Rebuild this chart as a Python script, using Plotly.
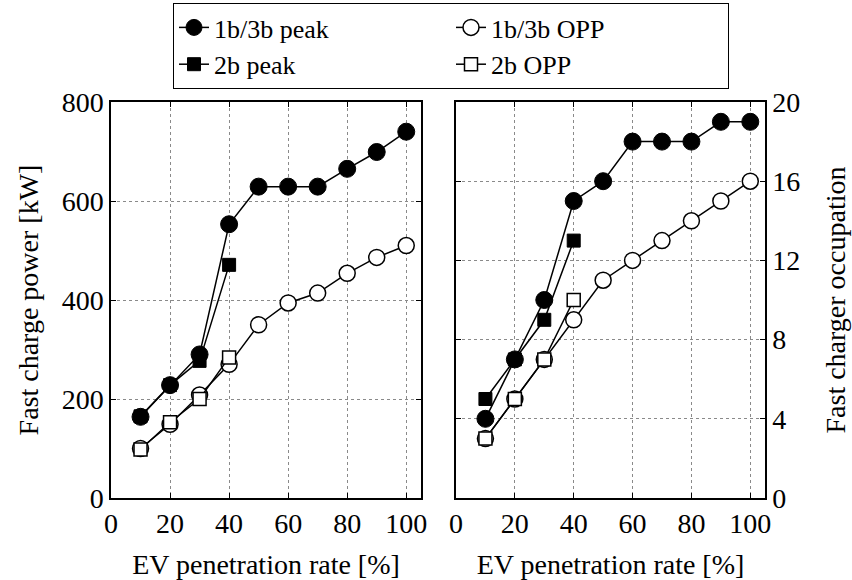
import plotly.graph_objects as go

# EV penetration rate [%]
x_full = [10, 20, 30, 40, 50, 60, 70, 80, 90, 100]
x_2b = [10, 20, 30, 40]

# Fast charge power [kW]
power_13b_peak = [164, 228, 290, 553, 629, 629, 629, 665, 699, 740]
power_13b_opp = [100, 149, 208, 270, 350, 394, 414, 454, 486, 510]
power_2b_peak = [165, 228, 277, 471]
power_2b_opp = [98, 153, 200, 284]

# Fast charger occupation
occ_13b_peak = [4, 7, 10, 15, 16, 18, 18, 18, 19, 19]
occ_13b_opp = [3, 5, 7, 9, 11, 12, 13, 14, 15, 16]
occ_2b_peak = [5, 7, 9, 13]
occ_2b_opp = [3, 5, 7, 10]

x_ticks = [0, 20, 40, 60, 80, 100]
power_ticks = [0, 200, 400, 600, 800]
occ_ticks = [0, 4, 8, 12, 16, 20]

FONT = "Liberation Serif, Times New Roman, DejaVu Serif, serif"
FS = 28

fig = go.Figure()

line = dict(color="black", width=1.5)
styles = {
    "1b/3b OPP": dict(symbol="circle", size=16, color="white", line=dict(color="black", width=1.5)),
    "2b OPP": dict(symbol="square", size=13, color="white", line=dict(color="black", width=1.5)),
    "2b peak": dict(symbol="square", size=13, color="black", line=dict(color="black", width=1)),
    "1b/3b peak": dict(symbol="circle", size=17, color="black", line=dict(color="black", width=1)),
}
ranks = {"1b/3b peak": 1, "1b/3b OPP": 2, "2b peak": 3, "2b OPP": 4}

series = [
    ("1b/3b OPP", x_full, power_13b_opp, occ_13b_opp),
    ("2b OPP", x_2b, power_2b_opp, occ_2b_opp),
    ("2b peak", x_2b, power_2b_peak, occ_2b_peak),
    ("1b/3b peak", x_full, power_13b_peak, occ_13b_peak),
]

for name, xs, p, o in series:
    fig.add_trace(go.Scatter(x=xs, y=p, mode="lines+markers", name=name,
                             line=line, marker=styles[name], legendrank=ranks[name],
                             xaxis="x", yaxis="y", showlegend=True))
    fig.add_trace(go.Scatter(x=xs, y=o, mode="lines+markers", name=name,
                             line=line, marker=styles[name],
                             xaxis="x2", yaxis="y2", showlegend=False))

axis_common = dict(
    showline=True, linecolor="black", linewidth=1.5, mirror="ticks",
    ticks="inside", ticklen=5, tickcolor="black", tickwidth=1,
    showgrid=True, gridcolor="#8a8a8a", griddash="dot", gridwidth=1,
    zeroline=False, automargin=False,
    tickfont=dict(family=FONT, size=FS, color="black"),
)

W, H = 852, 580
ml, mr, mt, mb = 111, 87, 102, 82
pw = W - ml - mr
ph = H - mt - mb
d1 = (421 - ml) / pw
d2 = (456 - ml) / pw

fig.update_layout(
    template="none",
    width=W, height=H,
    margin=dict(l=ml, r=mr, t=mt, b=mb, pad=0, autoexpand=False),
    paper_bgcolor="white", plot_bgcolor="white",
    font=dict(family=FONT, size=FS, color="black"),
    showlegend=True,
    xaxis=dict(axis_common, domain=[0, d1], range=[0, 105], tickvals=x_ticks,
               title=dict(text="EV penetration rate [%]", font=dict(family=FONT, size=FS), standoff=16)),
    xaxis2=dict(axis_common, domain=[d2, 1], range=[0, 105], tickvals=x_ticks, anchor="y2",
                title=dict(text="EV penetration rate [%]", font=dict(family=FONT, size=FS), standoff=16)),
    yaxis=dict(axis_common, range=[0, 800], tickvals=power_ticks, anchor="x",
               title=dict(text="Fast charge power [kW]", font=dict(family=FONT, size=FS), standoff=15)),
    yaxis2=dict(axis_common, range=[0, 20], tickvals=occ_ticks, anchor="x2", side="right",
                title=dict(text="Fast charger occupation", font=dict(family=FONT, size=FS), standoff=26)),
    legend=dict(
        orientation="h", x=(173 - ml) / pw, xanchor="left",
        y=1 + (mt - 3) / ph, yanchor="top",
        bordercolor="black", borderwidth=1, bgcolor="white",
        entrywidth=232, entrywidthmode="pixels",
        font=dict(family=FONT, size=26, color="black"),
        tracegroupgap=0, itemsizing="trace",
    ),
)

fig.write_html("out.html", config={"displayModeBar": False},
               post_script="document.body.style.margin='0';")
